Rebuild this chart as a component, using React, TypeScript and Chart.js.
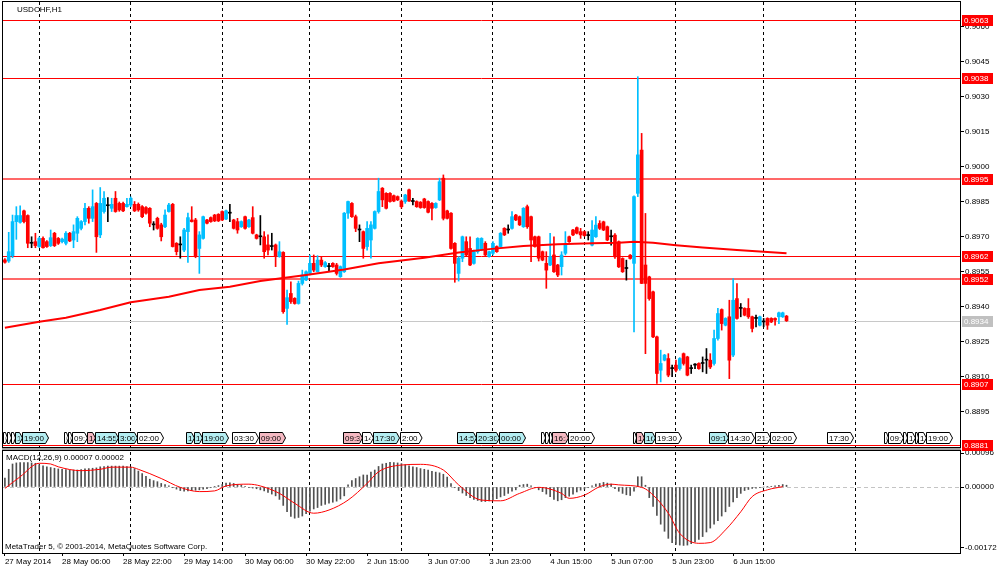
import React, { useEffect, useRef } from "react";
import { Chart, registerables } from "chart.js";
Chart.register(...registerables);

// ---------- categories / axis ----------
const SLOTS = 251;
const slotLabels = Array.from({ length: SLOTS }, (_, i) => String(i));
const tickIdx = [0, 15, 31, 47, 63, 79, 95, 111, 127, 143, 159, 175, 191];
const tickText = ["27 May 2014", "28 May 06:00", "28 May 22:00", "29 May 14:00", "30 May 06:00", "30 May 22:00", "2 Jun 15:00", "3 Jun 07:00", "3 Jun 23:00", "4 Jun 15:00", "5 Jun 07:00", "5 Jun 23:00", "6 Jun 15:00"];
const gridIdx = [9, 33, 57, 80, 104, 128, 152, 176, 199, 223];

const priceTicks = [0.906, 0.9045, 0.903, 0.9015, 0.9, 0.8985, 0.897, 0.8955, 0.894, 0.8925, 0.891, 0.8895];
const macdTicks = [0.00096, 0, -0.00172];
const PRICE_MIN = 0.887957, PRICE_MAX = 0.907071;
const MACD_MIN = -0.0018635, MACD_MAX = 0.0011012;

// ---------- candles (USDCHF H1) ----------
const opens = [
0.89602,0.89597,0.89620,0.89766,0.89763,0.89812,0.89792,0.89673,0.89680,0.89659,
0.89694,0.89680,0.89663,0.89716,0.89694,0.89680,0.89673,0.89716,0.89687,0.89716,
0.89737,0.89766,0.89823,0.89780,0.89844,0.89709,0.89809,0.89834,0.89823,0.89866,
0.89844,0.89844,0.89830,0.89837,0.89840,0.89840,0.89830,0.89826,0.89823,0.89752,
0.89780,0.89752,0.89744,0.89809,0.89840,0.89673,0.89666,0.89644,0.89723,0.89773,
0.89773,0.89651,0.89694,0.89773,0.89783,0.89794,0.89797,0.89809,0.89777,0.89802,
0.89773,0.89766,0.89744,0.89787,0.89744,0.89783,0.89709,0.89701,0.89701,0.89666,
0.89659,0.89666,0.89616,0.89634,0.89394,0.89458,0.89437,0.89415,0.89501,0.89516,
0.89544,0.89587,0.89551,0.89601,0.89573,0.89573,0.89587,0.89580,0.89530,0.89551,
0.89802,0.89844,0.89787,0.89730,0.89723,0.89659,0.89687,0.89737,0.89809,0.89909,
0.89887,0.89887,0.89877,0.89873,0.89854,0.89852,0.89902,0.89852,0.89852,0.89849,
0.89863,0.89852,0.89844,0.89826,0.89859,0.89952,0.89812,0.89802,0.89673,0.89544,
0.89609,0.89680,0.89651,0.89587,0.89637,0.89644,0.89673,0.89616,0.89630,0.89659,
0.89659,0.89737,0.89730,0.89737,0.89794,0.89787,0.89744,0.89830,0.89787,0.89701,
0.89701,0.89637,0.89587,0.89580,0.89623,0.89580,0.89573,0.89630,0.89701,0.89730,
0.89740,0.89723,0.89723,0.89706,0.89665,0.89701,0.89758,0.89765,0.89744,0.89701,
0.89708,0.89680,0.89608,0.89565,0.89622,0.89587,0.89887,0.90073,0.89580,0.89529,
0.89465,0.89272,0.89129,0.89172,0.89179,0.89136,0.89151,0.89136,0.89200,0.89186,
0.89136,0.89151,0.89158,0.89158,0.89172,0.89172,0.89158,0.89265,0.89389,0.89322,
0.89358,0.89194,0.89436,0.89394,0.89394,0.89394,0.89358,0.89351,0.89322,0.89336,
0.89351,0.89351,0.89351,0.89358,0.89358,0.89361];
const highs = [
0.89608,0.89720,0.89794,0.89830,0.89834,0.89815,0.89795,0.89701,0.89716,0.89700,
0.89701,0.89685,0.89730,0.89720,0.89698,0.89695,0.89723,0.89720,0.89752,0.89787,
0.89770,0.89844,0.89830,0.89902,0.89848,0.89912,0.89895,0.89869,0.89866,0.89895,
0.89850,0.89850,0.89866,0.89872,0.89852,0.89846,0.89835,0.89830,0.89826,0.89766,
0.89785,0.89759,0.89816,0.89844,0.89844,0.89676,0.89701,0.89737,0.89802,0.89830,
0.89780,0.89723,0.89790,0.89776,0.89786,0.89797,0.89800,0.89812,0.89815,0.89840,
0.89776,0.89780,0.89769,0.89790,0.89776,0.89830,0.89712,0.89792,0.89723,0.89709,
0.89716,0.89670,0.89680,0.89637,0.89473,0.89508,0.89440,0.89511,0.89558,0.89555,
0.89623,0.89623,0.89620,0.89616,0.89595,0.89587,0.89590,0.89587,0.89576,0.89805,
0.89854,0.89848,0.89794,0.89752,0.89726,0.89766,0.89766,0.89812,0.89952,0.89912,
0.89890,0.89890,0.89880,0.89876,0.89859,0.89883,0.89905,0.89866,0.89855,0.89852,
0.89866,0.89855,0.89847,0.89847,0.89952,0.89966,0.89815,0.89805,0.89676,0.89616,
0.89704,0.89701,0.89701,0.89644,0.89697,0.89697,0.89680,0.89640,0.89680,0.89662,
0.89719,0.89740,0.89752,0.89809,0.89797,0.89790,0.89826,0.89837,0.89790,0.89704,
0.89704,0.89640,0.89637,0.89716,0.89701,0.89583,0.89637,0.89723,0.89704,0.89733,
0.89743,0.89737,0.89726,0.89723,0.89770,0.89787,0.89770,0.89768,0.89747,0.89730,
0.89715,0.89683,0.89611,0.89601,0.89625,0.89876,0.90387,0.90144,0.89801,0.89532,
0.89468,0.89275,0.89215,0.89197,0.89200,0.89151,0.89172,0.89183,0.89203,0.89189,
0.89151,0.89158,0.89161,0.89186,0.89222,0.89200,0.89301,0.89394,0.89392,0.89354,
0.89429,0.89522,0.89500,0.89415,0.89397,0.89436,0.89361,0.89365,0.89361,0.89351,
0.89354,0.89354,0.89354,0.89378,0.89378,0.89364];
const lows = [
0.89588,0.89591,0.89611,0.89690,0.89759,0.89760,0.89654,0.89654,0.89654,0.89655,
0.89652,0.89655,0.89659,0.89659,0.89668,0.89675,0.89666,0.89680,0.89654,0.89680,
0.89730,0.89752,0.89759,0.89766,0.89634,0.89697,0.89802,0.89766,0.89809,0.89806,
0.89810,0.89808,0.89828,0.89830,0.89809,0.89810,0.89783,0.89798,0.89744,0.89730,
0.89733,0.89683,0.89740,0.89806,0.89657,0.89623,0.89609,0.89637,0.89591,0.89764,
0.89611,0.89544,0.89691,0.89756,0.89763,0.89766,0.89766,0.89770,0.89774,0.89766,
0.89734,0.89716,0.89741,0.89734,0.89741,0.89713,0.89691,0.89666,0.89609,0.89623,
0.89644,0.89573,0.89613,0.89373,0.89325,0.89415,0.89412,0.89412,0.89494,0.89513,
0.89537,0.89551,0.89550,0.89573,0.89570,0.89551,0.89570,0.89537,0.89527,0.89548,
0.89780,0.89784,0.89723,0.89680,0.89609,0.89644,0.89609,0.89734,0.89802,0.89830,
0.89820,0.89849,0.89851,0.89856,0.89823,0.89844,0.89852,0.89837,0.89827,0.89823,
0.89823,0.89803,0.89773,0.89823,0.89856,0.89773,0.89777,0.89648,0.89506,0.89511,
0.89594,0.89616,0.89577,0.89583,0.89630,0.89641,0.89620,0.89613,0.89623,0.89634,
0.89656,0.89706,0.89716,0.89734,0.89770,0.89749,0.89741,0.89737,0.89594,0.89656,
0.89597,0.89598,0.89480,0.89577,0.89548,0.89530,0.89537,0.89623,0.89677,0.89706,
0.89713,0.89694,0.89703,0.89687,0.89662,0.89698,0.89732,0.89727,0.89684,0.89665,
0.89608,0.89569,0.89548,0.89515,0.89605,0.89293,0.89873,0.89500,0.89200,0.89429,
0.89269,0.89072,0.89079,0.89169,0.89101,0.89101,0.89122,0.89129,0.89151,0.89105,
0.89115,0.89136,0.89133,0.89122,0.89115,0.89136,0.89151,0.89258,0.89301,0.89319,
0.89093,0.89187,0.89348,0.89358,0.89362,0.89351,0.89293,0.89315,0.89319,0.89315,
0.89304,0.89333,0.89322,0.89329,0.89355,0.89338];
const closes = [
0.89592,0.89637,0.89766,0.89792,0.89792,0.89766,0.89673,0.89673,0.89663,0.89694,
0.89654,0.89659,0.89697,0.89663,0.89673,0.89691,0.89716,0.89683,0.89723,0.89780,
0.89766,0.89823,0.89780,0.89830,0.89701,0.89844,0.89866,0.89834,0.89840,0.89809,
0.89816,0.89812,0.89840,0.89866,0.89812,0.89816,0.89787,0.89802,0.89759,0.89752,
0.89737,0.89701,0.89794,0.89837,0.89659,0.89637,0.89666,0.89730,0.89783,0.89766,
0.89616,0.89709,0.89787,0.89759,0.89766,0.89769,0.89769,0.89773,0.89812,0.89802,
0.89737,0.89730,0.89766,0.89737,0.89773,0.89716,0.89694,0.89701,0.89637,0.89644,
0.89659,0.89616,0.89637,0.89380,0.89440,0.89423,0.89415,0.89501,0.89537,0.89551,
0.89587,0.89558,0.89601,0.89580,0.89590,0.89573,0.89573,0.89544,0.89573,0.89802,
0.89852,0.89787,0.89737,0.89730,0.89651,0.89737,0.89752,0.89809,0.89895,0.89859,
0.89823,0.89852,0.89854,0.89859,0.89830,0.89880,0.89854,0.89852,0.89830,0.89826,
0.89826,0.89806,0.89823,0.89844,0.89937,0.89780,0.89780,0.89651,0.89587,0.89609,
0.89701,0.89623,0.89580,0.89637,0.89694,0.89694,0.89623,0.89637,0.89673,0.89637,
0.89716,0.89709,0.89730,0.89787,0.89773,0.89752,0.89823,0.89744,0.89687,0.89659,
0.89609,0.89601,0.89558,0.89616,0.89551,0.89537,0.89623,0.89673,0.89680,0.89709,
0.89716,0.89709,0.89706,0.89706,0.89730,0.89751,0.89737,0.89730,0.89687,0.89701,
0.89615,0.89572,0.89551,0.89565,0.89608,0.89873,0.90052,0.89501,0.89501,0.89436,
0.89272,0.89115,0.89158,0.89194,0.89108,0.89136,0.89129,0.89179,0.89158,0.89108,
0.89136,0.89151,0.89136,0.89158,0.89172,0.89143,0.89265,0.89372,0.89329,0.89351,
0.89172,0.89429,0.89351,0.89394,0.89365,0.89358,0.89308,0.89351,0.89358,0.89336,
0.89322,0.89336,0.89344,0.89375,0.89375,0.89341];

// ---------- moving average (sampled) ----------
const maIdx = [0, 9, 16, 25, 33, 43, 51, 59, 67, 79, 89, 98, 110, 119, 127, 136, 145, 154, 161, 165, 170, 176, 183, 192, 199, 205];
const maVal = [0.89311, 0.89337, 0.89354, 0.89387, 0.89420, 0.89444, 0.89473, 0.89487, 0.89511, 0.89537, 0.89561, 0.89587, 0.89611, 0.89634, 0.89648, 0.89661, 0.89669, 0.89673, 0.89675, 0.89680, 0.89675, 0.89665, 0.89655, 0.89644, 0.89637, 0.89630];

// ---------- MACD ----------
const macdHist = [
0.00025,0.00050,0.00065,0.00068,0.00069,0.00069,0.00069,0.00068,0.00067,0.00063,
0.00060,0.00057,0.00055,0.00053,0.00051,0.00050,0.00049,0.00048,0.00048,0.00048,
0.00049,0.00051,0.00052,0.00053,0.00054,0.00057,0.00058,0.00059,0.00059,0.00059,
0.00059,0.00059,0.00058,0.00056,0.00052,0.00045,0.00038,0.00030,0.00022,0.00018,
0.00015,0.00010,0.00007,0.00003,-0.00002,-0.00006,-0.00010,-0.00012,-0.00011,-0.00010,
-0.00009,-0.00008,-0.00006,-0.00005,-0.00002,0.00001,0.00004,0.00007,0.00011,0.00012,
0.00010,0.00007,0.00005,0.00002,-0.00001,-0.00003,-0.00005,-0.00008,-0.00011,-0.00015,
-0.00020,-0.00025,-0.00035,-0.00052,-0.00070,-0.00083,-0.00088,-0.00086,-0.00082,-0.00075,
-0.00068,-0.00062,-0.00058,-0.00052,-0.00049,-0.00046,-0.00043,-0.00040,-0.00034,-0.00025,
0.00006,0.00018,0.00024,0.00029,0.00034,0.00034,0.00042,0.00048,0.00058,0.00065,
0.00067,0.00070,0.00069,0.00068,0.00066,0.00063,0.00060,0.00057,0.00055,0.00052,
0.00050,0.00048,0.00044,0.00042,0.00040,0.00036,0.00028,0.00010,-0.00002,-0.00010,
-0.00017,-0.00024,-0.00030,-0.00035,-0.00038,-0.00041,-0.00041,-0.00039,-0.00036,-0.00033,
-0.00028,-0.00024,-0.00018,-0.00012,-0.00008,0.00005,0.00007,0.00008,0.00003,-0.00002,
-0.00008,-0.00013,-0.00020,-0.00027,-0.00035,-0.00039,-0.00036,-0.00030,-0.00026,-0.00020,
-0.00014,-0.00009,-0.00006,-0.00002,0.00003,0.00008,0.00010,0.00013,0.00011,0.00008,
-0.00005,-0.00012,-0.00018,-0.00022,-0.00024,-0.00012,0.00029,0.00029,0.00005,-0.00030,
-0.00055,-0.00080,-0.00105,-0.00125,-0.00145,-0.00157,-0.00162,-0.00164,-0.00165,-0.00164,
-0.00160,-0.00155,-0.00148,-0.00140,-0.00127,-0.00116,-0.00105,-0.00095,-0.00082,-0.00070,
-0.00055,-0.00042,-0.00030,-0.00018,-0.00010,-0.00007,-0.00004,-0.00003,-0.00001,0.00000,
0.00001,0.00002,0.00003,0.00005,0.00007,0.00005];
const sigIdx = [0, 4, 9, 12, 14, 20, 25, 28, 33, 35, 41, 46, 51, 55, 58, 64, 67, 72, 76, 81, 85, 90, 95, 98, 104, 109, 115, 119, 125, 130, 135, 140, 146, 148, 152, 156, 159, 161, 167, 169, 174, 177, 182, 185, 189, 193, 196, 200, 204];
const sigVal = [-0.00004, 0.00029, 0.00067, 0.00065, 0.00057, 0.00046, 0.00050, 0.00056, 0.00056, 0.00050, 0.00024, -0.00001, -0.00013, -0.00011, 0.00003, 0.00008, 0.00003, -0.00018, -0.00046, -0.00074, -0.00065, -0.00037, 0.00010, 0.00043, 0.00062, 0.00064, 0.00048, 0.00006, -0.00037, -0.00039, -0.00018, -0.00001, -0.00018, -0.00032, -0.00023, 0.00001, 0.00008, 0.00006, -0.00001, -0.00013, -0.00074, -0.00131, -0.00159, -0.00157, -0.00121, -0.00070, -0.00027, -0.00008, 0.00001];

// ---------- levels ----------
const levelVals = [0.9063, 0.9038, 0.8995, 0.8962, 0.8952, 0.8907, 0.8881];
const levelWidths = [1, 1, 2, 1, 2, 1, 1];
const bidPrice = 0.8934;
const priceBoxVals = [0.9063, 0.9038, 0.8995, 0.8962, 0.8952, 0.8934, 0.8907, 0.8881];
const priceBoxColors = ["#ff0000", "#ff0000", "#ff0000", "#ff0000", "#ff0000", "#c0c0c0", "#ff0000", "#ff0000"];

// ---------- calendar events ----------
const eventIdx = [0, 1, 2, 3, 5, 16, 17, 18, 22, 24, 30, 35, 48, 50, 52, 60, 67, 89, 94, 97, 104, 119, 124, 130, 141, 142, 143, 144, 148, 165, 166, 168, 171, 185, 190, 197, 201, 216, 231, 232, 236, 237, 239, 240, 242];
const eventText = ["09:00", "10:00", "12:00", "14:00", "19:00", "03:00", "06:00", "09:30", "10:00", "14:55", "3:00", "02:00", "13:30", "14:00", "19:00", "03:30", "09:00", "09:30", "14:00", "17:30", "2:00", "14:55", "20:30", "00:00", "10:00", "11:00", "12:00", "16:30", "20:00", "12:00", "14:00", "16:00", "19:30", "09:15", "14:30", "21:00", "02:00", "17:30", "08:00", "09:15", "13:00", "14:00", "15:00", "16:00", "19:00"];
const eventKind = ["w", "w", "w", "c", "c", "w", "w", "w", "p", "c", "c", "w", "c", "c", "c", "w", "p", "p", "w", "c", "w", "c", "c", "c", "w", "w", "w", "p", "w", "w", "p", "c", "w", "c", "w", "w", "w", "w", "w", "w", "w", "w", "w", "w", "w"];
const eventFill: Record<string, string> = { w: "#ffffff", c: "#b4eef2", p: "#f5b9c2" };

const CYAN = "#00bfff";
const RED = "#ff0000";
const FONT = '"Liberation Sans", Arial, sans-serif';

export default function App() {
  const ref = useRef<HTMLCanvasElement>(null);

  useEffect(() => {
    const n = opens.length;
    const candleColor = opens.map((o, i) => (closes[i] > o ? CYAN : closes[i] < o ? RED : "#000000"));
    const wickData = lows.map((l, i) => [l, highs[i]]);
    const bodyData = opens.map((o, i) => [Math.min(o, closes[i]), Math.max(o, closes[i])]);
    const maData: (number | null)[] = Array(n).fill(null);
    maIdx.forEach((ix, k) => (maData[ix] = maVal[k]));
    const sigData: (number | null)[] = Array(n).fill(null);
    sigIdx.forEach((ix, k) => (sigData[ix] = sigVal[k]));

    const overlay = {
      id: "overlay",
      beforeDatasetsDraw(chart: any) {
        const { ctx, chartArea: a, scales } = chart;
        const y = scales.y;
        ctx.save();
        levelVals.forEach((v, k) => {
          const w = levelWidths[k];
          const py = w === 1 ? Math.round(y.getPixelForValue(v)) + 0.5 : Math.round(y.getPixelForValue(v));
          ctx.strokeStyle = w === 1 ? "#ff0000" : "rgba(255,40,40,0.7)";
          ctx.lineWidth = w;
          ctx.beginPath();
          ctx.moveTo(a.left, py);
          ctx.lineTo(a.right, py);
          ctx.stroke();
        });
        const pb = Math.round(y.getPixelForValue(bidPrice)) + 0.5;
        ctx.strokeStyle = "#c8c8c8";
        ctx.lineWidth = 1;
        ctx.beginPath();
        ctx.moveTo(a.left, pb);
        ctx.lineTo(a.right, pb);
        ctx.stroke();
        ctx.restore();
      },
      afterDatasetsDraw(chart: any) {
        const { ctx, scales } = chart;
        const x = scales.x, y = scales.y;
        ctx.save();
        ctx.font = "8px " + FONT;
        const top = Math.round(y.bottom) - 15.5;
        const bot = Math.round(y.bottom) - 4.5;
        const mid = (top + bot) / 2;
        const leftOf = (ix: number) => Math.round(x.getPixelForValue(ix) - 1.5) + 0.5;
        for (let k = 0; k < eventIdx.length; k++) {
          const l = leftOf(eventIdx[k]);
          let r = l + ctx.measureText(eventText[k]).width + 6;
          if (k + 1 < eventIdx.length) {
            const nl = leftOf(eventIdx[k + 1]);
            if (nl < r) r = nl;
          }
          const ah = Math.min(3, (r - l) / 2);
          ctx.beginPath();
          ctx.moveTo(l, top);
          ctx.lineTo(r - ah, top);
          ctx.lineTo(r, mid);
          ctx.lineTo(r - ah, bot);
          ctx.lineTo(l, bot);
          ctx.closePath();
          ctx.fillStyle = eventFill[eventKind[k]];
          ctx.fill();
          ctx.strokeStyle = "#000";
          ctx.lineWidth = 1;
          ctx.stroke();
          ctx.save();
          ctx.beginPath();
          ctx.rect(l + 0.5, top, Math.max(0, r - ah - l - 0.5), bot - top);
          ctx.clip();
          ctx.fillStyle = "#000";
          ctx.textBaseline = "middle";
          ctx.fillText(eventText[k], l + 1.5, mid + 0.5);
          ctx.restore();
        }
        ctx.restore();
      },
      afterDraw(chart: any) {
        const { ctx, chartArea: a, scales } = chart;
        const y = scales.y, y2 = scales.y2;
        ctx.save();
        // frame
        ctx.strokeStyle = "#000";
        ctx.lineWidth = 1;
        ctx.strokeRect(a.left - 0.5, a.top - 0.5, a.right - a.left + 1, a.bottom - a.top + 1);
        // separator between panels
        const sb = Math.round(y.bottom);
        ctx.fillStyle = "#a0a0a0";
        ctx.fillRect(a.left - 1, sb - 1, a.right - a.left + 2, 3);
        ctx.fillStyle = "#000";
        ctx.fillRect(a.left - 1, sb - 1, a.right - a.left + 2, 1);
        ctx.fillRect(a.left - 1, sb + 2, a.right - a.left + 2, 1);
        // right axis price boxes
        ctx.font = "8px " + FONT;
        ctx.textBaseline = "middle";
        priceBoxVals.forEach((v, k) => {
          const py = Math.round(y.getPixelForValue(v));
          ctx.fillStyle = priceBoxColors[k];
          ctx.fillRect(a.right + 2, py - 5, 31, 11);
          ctx.fillStyle = "#ffffff";
          ctx.fillText(v.toFixed(4), a.right + 4, py + 0.5);
        });
        // texts
        ctx.fillStyle = "#000";
        ctx.fillText("USDCHF,H1", a.left + 14, a.top + 8);
        ctx.fillText("MACD(12,26,9) 0.00007 0.00002", a.left + 3, y2.top + 10);
        ctx.fillText("MetaTrader 5, \u00a9 2001-2014, MetaQuotes Software Corp.", a.left + 2, y2.bottom - 6);
        ctx.restore();
      },
    };

    const tickFont = { family: FONT, size: 8 };

    const chart = new Chart(ref.current as HTMLCanvasElement, {
      type: "bar",
      data: {
        labels: slotLabels,
        datasets: [
          {
            type: "line",
            label: "MA",
            data: maData,
            yAxisID: "y",
            borderColor: "#ff0000",
            borderWidth: 2,
            pointRadius: 0,
            spanGaps: true,
            tension: 0,
            order: -1,
          } as any,
          {
            label: "body",
            data: bodyData,
            yAxisID: "y",
            backgroundColor: candleColor,
            barThickness: 3,
            minBarLength: 1,
            grouped: false,
            borderWidth: 0,
            order: 0,
          } as any,
          {
            label: "wick",
            data: wickData,
            yAxisID: "y",
            backgroundColor: candleColor,
            barThickness: 1,
            grouped: false,
            borderWidth: 0,
            order: 1,
          } as any,
          {
            label: "MACD",
            data: macdHist,
            yAxisID: "y2",
            backgroundColor: "#505050",
            barThickness: 1,
            grouped: false,
            borderWidth: 0,
            order: 2,
          } as any,
          {
            type: "line",
            label: "Signal",
            data: sigData,
            yAxisID: "y2",
            borderColor: "#ff0000",
            borderWidth: 1,
            pointRadius: 0,
            spanGaps: true,
            cubicInterpolationMode: "monotone",
            order: -2,
          } as any,
        ],
      },
      options: {
        animation: false,
        responsive: false,
        maintainAspectRatio: false,
        layout: { padding: { left: 3, top: 2, right: 0, bottom: 0 } },
        plugins: { legend: { display: false }, tooltip: { enabled: false } },
        events: [],
        scales: {
          x: {
            type: "category",
            offset: true,
            grid: {
              offset: false,
              lineWidth: 1,
              color: (c: any) => (gridIdx.includes(c.index) ? "#000000" : "rgba(0,0,0,0)"),
              drawTicks: true,
              tickLength: 3,
              tickColor: (c: any) => (tickIdx.includes(c.index) ? "#000000" : "rgba(0,0,0,0)"),
            },
            border: { display: true, color: "#000", dash: [3, 3] },
            ticks: {
              autoSkip: false,
              maxRotation: 0,
              minRotation: 0,
              align: "start",
              padding: 1,
              color: "#000",
              font: tickFont,
              callback: (_v: any, index: number) => {
                const k = tickIdx.indexOf(index);
                return k >= 0 ? tickText[k] : "";
              },
            },
            afterFit: (s: any) => {
              s.height = 21;
              s.paddingLeft = 0;
              s.paddingRight = 0;
            },
          },
          y: {
            type: "linear",
            position: "right",
            stack: "panels",
            stackWeight: 446,
            min: PRICE_MIN,
            max: PRICE_MAX,
            beginAtZero: false,
            grid: { drawOnChartArea: false, drawTicks: true, tickLength: 4, tickColor: "#000" },
            border: { display: true, color: "#000" },
            afterBuildTicks: (s: any) => {
              s.ticks = priceTicks.map((v) => ({ value: v }));
            },
            ticks: {
              crossAlign: "near",
              padding: 1,
              color: "#000",
              font: tickFont,
              callback: (v: any) => Number(v).toFixed(4),
            },
            afterFit: (s: any) => {
              s.width = 40;
              s.paddingTop = 0;
              s.paddingBottom = 0;
            },
          },
          y2: {
            type: "linear",
            position: "right",
            stack: "panels",
            stackWeight: 105,
            min: MACD_MIN,
            max: MACD_MAX,
            beginAtZero: false,
            grid: {
              drawOnChartArea: true,
              color: (c: any) => (c.tick && c.tick.value === 0 ? "#c4c4c4" : "rgba(0,0,0,0)"),
              drawTicks: true,
              tickLength: 4,
              tickColor: "#000",
            },
            border: { display: true, color: "#000", dash: [4, 3] },
            afterBuildTicks: (s: any) => {
              s.ticks = macdTicks.map((v) => ({ value: v }));
            },
            ticks: {
              crossAlign: "near",
              padding: 1,
              color: "#000",
              font: tickFont,
              callback: (v: any) => Number(v).toFixed(5),
            },
            afterFit: (s: any) => {
              s.width = 40;
              s.paddingTop = 0;
              s.paddingBottom = 0;
            },
          },
        },
      } as any,
      plugins: [overlay],
    });
    return () => chart.destroy();
  }, []);

  return (
    <div style={{ position: "fixed", left: 0, top: 0, width: 1000, height: 574, background: "#ffffff" }}>
      <canvas ref={ref} width={1000} height={574} style={{ display: "block", width: 1000, height: 574 }} />
    </div>
  );
}
